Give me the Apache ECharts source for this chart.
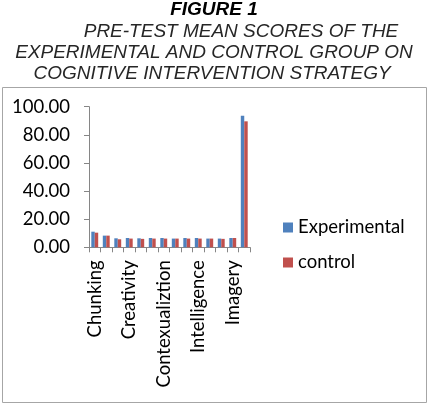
<!DOCTYPE html>
<html>
<head>
<meta charset="utf-8">
<script src="https://cdn.jsdelivr.net/npm/echarts@6/dist/echarts.min.js"></script>
<style>html,body{margin:0;padding:0;background:#fff;}#c{width:430px;height:404px;}</style>
</head>
<body>
<div id="c"></div>
<script>
var categories = ['Chunking', '', '', 'Creativity', '', '', 'Contexualiztion', '', '', 'Intelligence', '', '', 'Imagery', ''];
var experimental = [11.1, 8.3, 6.4, 6.6, 6.4, 6.6, 6.6, 6.2, 6.6, 6.6, 6.2, 6.2, 6.6, 93.6];
var control = [10.4, 8.3, 5.7, 6.2, 6.0, 6.2, 6.2, 6.2, 6.2, 6.2, 6.2, 6.0, 6.6, 89.6];
var yTicks = { min: 0, max: 100, interval: 20 };

var chart = echarts.init(document.getElementById('c'), null, { renderer: 'canvas' });
var lab = 'Lato';
chart.setOption({
  animation: false,
  backgroundColor: '#fff',
  graphic: [
    { type: 'rect', shape: { x: 2.5, y: 87.5, width: 424, height: 315 }, style: { fill: 'none', stroke: '#a6a6a6', lineWidth: 1 } },
    { type: 'text', x: 214, y: 10, style: { text: 'FIGURE 1', font: 'italic bold 19px "Liberation Sans"', fill: '#000', textAlign: 'center', textVerticalAlign: 'middle' } },
    { type: 'text', x: 241, y: 32, style: { text: 'PRE-TEST MEAN SCORES OF THE', font: 'italic 19px "Liberation Sans"', fill: '#262626', textAlign: 'center', textVerticalAlign: 'middle' } },
    { type: 'text', x: 214, y: 53, style: { text: 'EXPERIMENTAL AND CONTROL GROUP ON', font: 'italic 19px "Liberation Sans"', fill: '#262626', textAlign: 'center', textVerticalAlign: 'middle' } },
    { type: 'text', x: 212, y: 74, style: { text: 'COGNITIVE INTERVENTION STRATEGY', font: 'italic 19px "Liberation Sans"', fill: '#262626', textAlign: 'center', textVerticalAlign: 'middle' } }
  ],
  legend: {
    orient: 'vertical', left: 283, top: 218, padding: 0, itemWidth: 10, itemHeight: 10, itemGap: 16,
    icon: 'rect',
    textStyle: { fontFamily: lab, fontSize: 18.5, color: '#000' },
    data: ['Experimental', 'control']
  },
  grid: { left: 89, top: 106.7, width: 161, height: 140.6, containLabel: false },
  xAxis: {
    type: 'category', data: categories,
    axisLine: { lineStyle: { color: '#868686' } },
    axisTick: { show: true, interval: 0, length: 5, lineStyle: { color: '#868686' } },
    axisLabel: { interval: 0, rotate: 90, margin: 13, fontFamily: lab, fontSize: 18.5, color: '#000' }
  },
  yAxis: {
    type: 'value', min: yTicks.min, max: yTicks.max, interval: yTicks.interval,
    axisLine: { show: true, lineStyle: { color: '#868686' } },
    axisTick: { show: true, length: 5, lineStyle: { color: '#868686' } },
    splitLine: { show: false },
    axisLabel: { margin: 19, fontFamily: lab, fontSize: 18.5, color: '#000', formatter: function (v) { return v.toFixed(2); } }
  },
  series: [
    { name: 'Experimental', type: 'bar', data: experimental, itemStyle: { color: '#4F81BD' }, barGap: '0%', barCategoryGap: '40%' },
    { name: 'control', type: 'bar', data: control, itemStyle: { color: '#C0504D' } }
  ]
});
</script>
</body>
</html>
